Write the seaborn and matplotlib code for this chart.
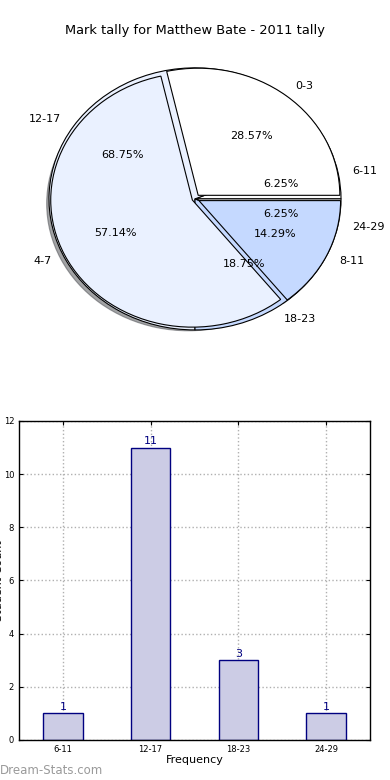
import matplotlib
matplotlib.use("Agg")
import matplotlib.pyplot as plt
import seaborn as sns
import pandas as pd

# ---- data ----
title = "Mark tally for Matthew Bate - 2011 tally"
inner_labels = ["0-3", "4-7", "8-11"]
inner_counts = [2, 4, 1]
outer_labels = ["6-11", "12-17", "18-23", "24-29"]
outer_counts = [1, 11, 3, 1]
bar_categories = ["6-11", "12-17", "18-23", "24-29"]
bar_values = [1, 11, 3, 1]
y_ticks = [0, 2, 4, 6, 8, 10, 12]

sns.set_style("white")
plt.rcParams["font.family"] = ["DejaVu Sans"]
plt.rcParams["text.color"] = "black"
plt.rcParams["axes.labelcolor"] = "black"
plt.rcParams["xtick.color"] = "black"
plt.rcParams["ytick.color"] = "black"

fig = plt.figure(figsize=(3.9, 7.8), dpi=100)

pie_colors = ["#FFFFFF", "#EAF1FF", "#C5D9FF"]

# ---- pie chart ----
pax = fig.add_axes([0.032, 0.535, 0.936, 0.42])
w2, t2, a2 = pax.pie(outer_counts, labels=outer_labels, autopct="%1.2f%%",
                     colors=pie_colors + ["#FFFFFF"], radius=1.0,
                     wedgeprops=dict(edgecolor="black", linewidth=0.8),
                     textprops=dict(fontsize=8, color="black"), labeldistance=1.1,
                     pctdistance=0.6)
w1, t1, a1 = pax.pie(inner_counts, labels=inner_labels, autopct="%1.2f%%",
                     colors=pie_colors, radius=0.97, explode=[0.035, 0.02, 0.03],
                     shadow=True,
                     wedgeprops=dict(edgecolor="black", linewidth=0.8),
                     textprops=dict(fontsize=8, color="black"), labeldistance=1.1,
                     pctdistance=0.6)
pax.set_aspect("auto")
pax.set_xlim(-1.25, 1.25)
pax.set_ylim(-1.25, 1.25)
pax.axis("off")
fig.text(0.5, 0.961, title, ha="center", va="center", fontsize=9.4)

# ---- bar chart ----
df = pd.DataFrame({"cat": bar_categories, "val": bar_values})
bax = fig.add_axes([0.0487, 0.0513, 0.9, 0.409])
sns.barplot(data=df, x="cat", y="val", ax=bax, color="#CCCCE5", saturation=1,
            width=0.45, edgecolor="#000080", linewidth=1.0)
bax.bar_label(bax.containers[0], color="#000080", fontsize=8, padding=1)
bax.set_ylim(0, 12)
bax.set_xlim(-0.5, 3.5)
bax.set_yticks(y_ticks)
bax.tick_params(axis="both", labelsize=6, direction="in", length=3,
                top=True, right=True, bottom=True, left=True)
bax.grid(True, linestyle=":", color="#b0b0b0", linewidth=1)
bax.set_axisbelow(True)
for s in bax.spines.values():
    s.set_color("black")
    s.set_linewidth(1)
bax.set_xlabel("Frequency", fontsize=8, labelpad=1)
bax.set_ylabel("Student Count", fontsize=8)
bax.yaxis.set_label_coords(-0.043, 0.5)

fig.text(0.0, 0.004, "Dream-Stats.com", color="#9a9a9a", fontsize=8.5,
         ha="left", va="bottom")

fig.savefig("out.png", dpi=100)
